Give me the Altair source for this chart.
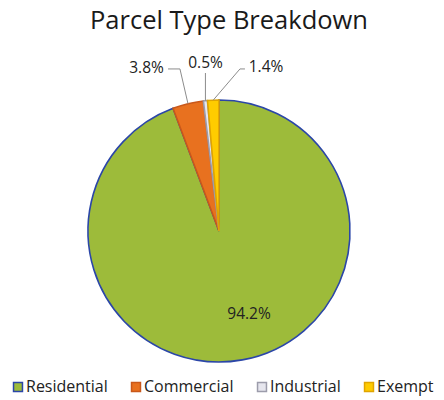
import altair as alt
import pandas as pd
import numpy as np

# ---- data ----
categories = ["Residential", "Commercial", "Industrial", "Exempt"]
values = [94.2, 3.8, 0.5, 1.4]
labels = ["94.2%", "3.8%", "0.5%", "1.4%"]

# ---- style ----
fill_colors = ["#9dbb3a", "#e8711f", "#e6e6ee", "#ffcc00"]
stroke_colors = ["#2b46a8", "#c9581a", "#9c9cab", "#e0a400"]
FONT = "Open Sans"

# ---- layout (plot coords) ----
CX, CY, R = 211, 183, 131
# label anchors in units of the radius, relative to the pie centre
LABEL_POS = {
    "Residential": (0.229, -0.634),
    "Commercial": (-0.553, 1.244),
    "Industrial": (-0.103, 1.282),
    "Exempt": (0.359, 1.252),
}
# extra leader-line points (units of radius) after the slice edge point
LEADER = {
    "Commercial": [(-0.298, 1.237), (-0.389, 1.237)],
    "Industrial": [(None, 1.206)],
    "Exempt": [(0.160, 1.237), (0.198, 1.237)],
}

total = sum(values)
df = pd.DataFrame({"category": categories, "value": values, "label": labels,
                   "idx": range(len(categories))})
cum = np.cumsum(values) / total
start = np.concatenate([[0], cum[:-1]])
mid = (start + cum) / 2 * 2 * np.pi  # clockwise from 12 o'clock
df["mx"] = np.sin(mid)
df["my"] = np.cos(mid)
df["lx"] = [LABEL_POS[c][0] for c in categories]
df["ly"] = [LABEL_POS[c][1] for c in categories]

rows = []
for i, c in enumerate(categories):
    if c not in LEADER:
        continue
    ex, ey = df.loc[i, "mx"], df.loc[i, "my"]
    rows.append({"category": c, "seq": 0, "x": ex, "y": ey})
    for k, (px, py) in enumerate(LEADER[c]):
        rows.append({"category": c, "seq": k + 1,
                     "x": ex if px is None else px, "y": py})
lines = pd.DataFrame(rows)

xscale = alt.Scale(domain=[-1, 1], range=[CX - R, CX + R], nice=False, zero=False)
yscale = alt.Scale(domain=[-1, 1], range=[CY + R, CY - R], nice=False, zero=False)

legend = alt.Legend(orient="none", legendX=2, legendY=331, direction="horizontal",
                    symbolType="square", symbolSize=80, symbolStrokeWidth=1.5,
                    labelFont=FONT, labelFontSize=16, labelColor="#222222",
                    columnPadding=20, labelOffset=0)

arc = alt.Chart(df).mark_arc(outerRadius=R, strokeWidth=1.6).encode(
    theta=alt.Theta("value:Q", stack=True),
    order=alt.Order("idx:Q"),
    fill=alt.Fill("category:N", title=None,
                  scale=alt.Scale(domain=categories, range=fill_colors), legend=legend),
    stroke=alt.Stroke("category:N", title=None,
                      scale=alt.Scale(domain=categories, range=stroke_colors), legend=legend),
    x=alt.X(datum=0, scale=xscale, axis=None),
    y=alt.Y(datum=0, scale=yscale, axis=None),
)

leaders = alt.Chart(lines).mark_line(color="#8c8c8c", strokeWidth=1).encode(
    x=alt.X("x:Q", scale=xscale, axis=None),
    y=alt.Y("y:Q", scale=yscale, axis=None),
    detail="category:N",
    order="seq:Q",
)

text = alt.Chart(df).mark_text(font=FONT, fontSize=15.5, color="#222222",
                               align="center", baseline="middle").encode(
    x=alt.X("lx:Q", scale=xscale, axis=None),
    y=alt.Y("ly:Q", scale=yscale, axis=None),
    text="label:N",
)

chart = alt.layer(arc, leaders, text).properties(
    width=428, height=344, autosize="none",
    padding={"left": 0, "top": 40, "right": 0, "bottom": 8},
    background="white",
    title=alt.Title("Parcel Type Breakdown", font=FONT, fontSize=25.5,
                    fontWeight="normal", color="#1a1a1a", anchor="middle",
                    baseline="alphabetic", offset=-6, dx=7, frame="group"),
).configure_view(strokeWidth=0)

chart.save("out.html", embed_options={"renderer": "svg", "actions": False})
